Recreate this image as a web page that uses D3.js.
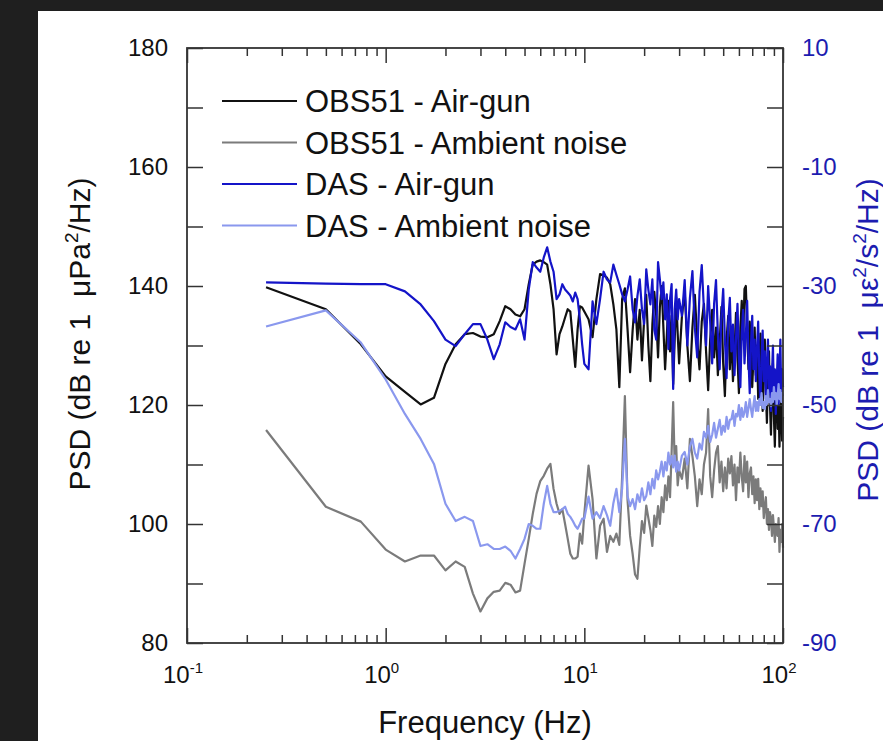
<!DOCTYPE html>
<html>
<head>
<meta charset="utf-8">
<script src="https://cdn.jsdelivr.net/npm/d3@7"></script>
<style>
  html, body { margin: 0; padding: 0; background: #1f1f1f; }
  svg { display: block; }
  text { font-family: "Liberation Sans", Arial, Helvetica, sans-serif; }
</style>
</head>
<body>
<svg id="chart" width="883" height="741"></svg>
<script>
// ---------------- DATA ----------------
const freqs = [
  0.25,0.5,0.75,1,1.25,1.5,1.75,2,2.25,2.5,2.75,3,3.25,3.5,3.75,4,4.25,4.5,4.75,5,
  5.25,5.5,5.75,6,6.25,6.5,6.75,7,7.25,7.5,7.75,8,8.25,8.5,8.75,9,9.25,9.5,9.75,10,
  10.5,11,11.5,12,12.5,13,13.5,14,14.5,15,15.5,16,16.5,17,17.5,18,18.5,19,19.5,20,
  20.5,21,21.5,22,22.5,23,23.5,24,24.5,25,25.5,26,26.5,27,27.5,28,28.5,29,29.5,30,
  31,32,33,34,35,36,37,38,39,40,41,42,43,44,45,46,47,48,49,50,
  51,52,53,54,55,56,57,58,59,60,61,62,63,64,65,66,67,68,69,70,
  71,72,73,74,75,76,77,78,79,80,81,82,83,84,85,86,87,88,89,90,
  91,92,93,94,95,96,97,98,99,100
];

// OBS51 (dB re 1 uPa^2/Hz) - left axis
const obsAirgun = [
  139.8,136.1,130.2,124.8,122.2,120.1,121.2,126.9,130.2,131.9,132.1,131.5,131.4,131.9,134.1,136.6,136.1,135.2,134.9,136.1,
  140.3,143.6,144.1,144.3,144.0,143.6,140.3,136.1,128.5,131.9,133.2,134.7,136.1,135.7,131.0,126.4,132.7,136.6,136.4,135.7,
  134.4,131.4,137.8,142.0,141.8,141.4,140.3,136.9,132.7,123.0,137.8,139.6,132.7,125.5,132.5,137.8,131.0,136.0,127.5,134.4,
  138.5,130.0,124.0,133.5,139.0,135.0,128.0,136.5,140.0,133.0,126.0,131.5,137.5,129.0,135.0,123.5,131.0,138.0,132.0,127.0,
  135,139,130,124,133,138.5,131,126,134,137,129,122.5,131,136,128,133,125,130.5,136.5,127,
  121.5,131,135,126,132,124,129,135.5,128,122,133,137.5,131,139.5,140,133,126,134,130,123,
  128,133,125,130,121,127,132,124,119,127,131,122,117,125,129,120,115,123,127,118,
  113,121,125,116,120,113,119,122.5,114,118
];
const obsAmbient = [
  115.8,102.9,100.4,95.7,93.7,94.7,94.7,92.2,93.7,92.8,88.3,85.3,87.5,88.6,88.8,90.1,89.8,88.5,88.8,93.3,
  97.5,101.7,105.1,107.2,108.1,109.3,110.1,105.9,103.4,101.7,102.5,100.0,97.5,95.0,94.2,94.2,94.5,98.4,96.7,101.7,
  109.8,104.2,94.2,99.7,100.9,95.3,98.0,97.0,98.4,96.5,108.0,121.5,104.0,98.0,95.0,91.5,90.8,96.0,100.5,98.5,
  103.1,101.0,99.0,96.3,101.4,99.5,103.0,100.0,104.5,102.0,106.5,104.0,108.0,104.5,112.0,120.5,110.0,113.1,106.5,109.0,
  107.6,111,106,114.3,111.4,108,103,107.5,105,110,112,119.3,108,104.5,109,112,113.1,107,110.5,105.5,
  109.5,106,111,108.5,111.4,106.5,110,104,109.5,107,112,108,105.5,111.4,107,110.5,104.5,108.5,109.5,105,
  108,103.5,107.5,104,107.6,102.5,106,103,105.5,101,103,104.5,100,102.5,99,102,100.9,98,101.5,99.5,
  97,100,98.5,98.0,101,95.3,99,97,100,96
];

// DAS (dB re 1 ue^2/s^2/Hz) - right axis
const dasAirgun = [
  -29.4,-29.6,-29.7,-29.7,-30.9,-33.1,-35.9,-39.0,-40.1,-38.1,-36.4,-36.4,-39.0,-42.3,-39.8,-36.1,-36.9,-37.3,-35.6,-39.0,
  -30.6,-26.0,-26.9,-27.6,-25.2,-23.5,-25.9,-27.6,-32.2,-31.4,-29.7,-30.6,-31.1,-31.6,-32.6,-31.1,-32.2,-35.6,-39.8,-43.1,
  -44.0,-32.6,-36.4,-32.2,-27.6,-28.9,-29.4,-26.4,-28.1,-29.7,-31.4,-32.6,-30.6,-28.4,-33.9,-36.1,-31.7,-28.9,-33.9,-36.4,
  -27.2,-30.6,-33.1,-28.9,-37.3,-39.0,-26.0,-28.9,-32.2,-29.4,-35.6,-31.4,-40.6,-32.2,-29.7,-47.3,-33.9,-30.6,-35.6,-32.2,
  -35,-29,-40,-32,-27.5,-37,-42,-31,-26.5,-34,-40,-30,-36,-43,-33,-29,-38,-44,-35,-30.5,
  -39,-45.5,-36,-32,-41,-36.5,-45,-39,-33,-42,-47,-38,-34,-43,-38.5,-32.5,-42,-48,-40,-35,
  -44,-39,-46,-40.5,-36,-45,-50,-42,-37.5,-46,-41,-49,-43,-39,-48,-43.5,-51,-45,-40,-49,
  -44,-51.5,-46,-41.5,-50,-45,-39,-49,-44,-47
];
const dasAmbient = [
  -36.8,-34.1,-39.5,-45.7,-51.5,-55.7,-59.9,-66.6,-69.5,-68.8,-69.5,-73.7,-73.4,-74.2,-74.2,-73.8,-74.5,-75.8,-74.2,-72.5,
  -70.0,-70.3,-70.8,-70.8,-66.6,-63.6,-66.6,-68.0,-68.0,-67.8,-67.5,-67.1,-68.3,-68.8,-69.5,-70.3,-70.8,-70.0,-69.1,-69.1,
  -65.4,-69.1,-68.0,-69.0,-67.0,-68.5,-70.3,-66.5,-64.1,-68.0,-64.0,-55.7,-65.3,-67.0,-65.8,-67.5,-65.0,-66.3,-64.0,-66.0,
  -65.3,-63.0,-65.0,-62.4,-64.0,-61.0,-62.5,-61.2,-59.5,-62.0,-59.6,-61.0,-58.0,-60.0,-58.6,-60.5,-58.5,-61.2,-59.5,-61.0,
  -58.5,-57.9,-60.0,-57.0,-55.7,-58.0,-59.0,-56.5,-57.5,-54.5,-55.5,-53.5,-56.2,-55.0,-53.0,-55.5,-54.0,-52.5,-55.0,-53.5,
  -54.5,-52.0,-54.0,-52.5,-52.4,-51.0,-53.5,-51.5,-51.9,-50.0,-52.5,-50.5,-52.0,-51.2,-49.5,-52.0,-50.5,-49.0,-50.7,-52.0,
  -50.0,-48.5,-51.0,-49.5,-51.0,-49.0,-50.0,-48.0,-50.5,-49.5,-50.7,-48.5,-50.0,-47.5,-49.5,-49.0,-50.2,-48.0,-49.5,-47.0,
  -49.0,-48.0,-50.0,-48.5,-46.5,-49.0,-47.5,-49.5,-48.0,-48.5
];

const seriesNames = ["OBS51 - Air-gun", "OBS51 - Ambient noise", "DAS - Air-gun", "DAS - Ambient noise"];
const seriesColors = ["#111111", "#7b7b7b", "#1414c8", "#8a98ee"];
const leftTicks = [80, 90, 100, 110, 120, 130, 140, 150, 160, 170, 180];
const leftLabels = [80, 100, 120, 140, 160, 180];
const rightTicks = [-90, -80, -70, -60, -50, -40, -30, -20, -10, 0, 10];
const rightLabels = [-90, -70, -50, -30, -10, 10];
const xDecades = [0.1, 1, 10, 100];
const xExponents = ["-1", "0", "1", "2"];

// ---------------- CHART ----------------
const svg = d3.select("#chart");
const W = 883, H = 741;
const m = { left: 187, right: 783, top: 48, bottom: 643 };
const axisColor = "#333333";
const rightColor = "#1c1cb0";

svg.append("rect").attr("x", 38).attr("y", 11).attr("width", W - 38).attr("height", H - 11).attr("fill", "#ffffff");

const x = d3.scaleLog().domain([0.1, 100]).range([m.left, m.right]);
const yL = d3.scaleLinear().domain([80, 180]).range([m.bottom, m.top]);
const yR = d3.scaleLinear().domain([-90, 10]).range([m.bottom, m.top]);

// lines
const lineL = d3.line().x((d, i) => x(freqs[i])).y(d => yL(d));
const lineR = d3.line().x((d, i) => x(freqs[i])).y(d => yR(d));

const plot = svg.append("g");
const sw = 2.2;
plot.append("path").datum(obsAirgun).attr("d", lineL).attr("fill", "none")
  .attr("stroke", seriesColors[0]).attr("stroke-width", sw).attr("stroke-linejoin", "round");
plot.append("path").datum(obsAmbient).attr("d", lineL).attr("fill", "none")
  .attr("stroke", seriesColors[1]).attr("stroke-width", sw).attr("stroke-linejoin", "round");
plot.append("path").datum(dasAirgun).attr("d", lineR).attr("fill", "none")
  .attr("stroke", seriesColors[2]).attr("stroke-width", sw).attr("stroke-linejoin", "round");
plot.append("path").datum(dasAmbient).attr("d", lineR).attr("fill", "none")
  .attr("stroke", seriesColors[3]).attr("stroke-width", sw).attr("stroke-linejoin", "round");

// x ticks (log minor + decade major)
const xTickVals = x.ticks();
const isDecade = v => xDecades.some(d => Math.abs(d - v) < 1e-9);

function styleAxis(g) {
  g.select(".domain").remove();
  g.selectAll(".tick line").attr("stroke", axisColor).attr("stroke-width", 1.5);
}

const xb = svg.append("g").attr("transform", `translate(0,${m.bottom})`)
  .call(d3.axisBottom(x).tickValues(xTickVals).tickSize(-8).tickFormat(""));
styleAxis(xb);
xb.selectAll(".tick line").attr("y2", d => isDecade(d) ? -15 : -8);

const xt = svg.append("g").attr("transform", `translate(0,${m.top})`)
  .call(d3.axisTop(x).tickValues(xTickVals).tickSize(-8).tickFormat(""));
styleAxis(xt);
xt.selectAll(".tick line").attr("y2", d => isDecade(d) ? 15 : 8);

// x labels with superscripts
const xl = svg.append("g");
xDecades.forEach((d, i) => {
  const t = xl.append("text").attr("x", x(d) - 4).attr("y", m.bottom + 40)
    .attr("text-anchor", "middle").attr("font-size", 24).attr("fill", "#111");
  t.append("tspan").text("10");
  t.append("tspan").attr("font-size", 15).attr("dy", -10).text(xExponents[i]);
});

// left axis
const yl = svg.append("g").attr("transform", `translate(${m.left},0)`)
  .call(d3.axisLeft(yL).tickValues(leftTicks).tickSize(-16).tickPadding(19)
    .tickFormat(d => leftLabels.includes(d) ? d : ""));
styleAxis(yl);
yl.selectAll(".tick text").attr("font-size", 24).attr("fill", "#111")
  .attr("font-family", "Liberation Sans, Arial, sans-serif");

// right axis
const yr = svg.append("g").attr("transform", `translate(${m.right},0)`)
  .call(d3.axisRight(yR).tickValues(rightTicks).tickSize(-16).tickPadding(19)
    .tickFormat(d => rightLabels.includes(d) ? d : ""));
styleAxis(yr);
yr.selectAll(".tick text").attr("font-size", 24).attr("fill", rightColor)
  .attr("font-family", "Liberation Sans, Arial, sans-serif");

// frame
svg.append("rect").attr("x", m.left).attr("y", m.top)
  .attr("width", m.right - m.left).attr("height", m.bottom - m.top)
  .attr("fill", "none").attr("stroke", axisColor).attr("stroke-width", 1.8);

// axis titles
svg.append("text").attr("x", (m.left + m.right) / 2).attr("y", 733)
  .attr("text-anchor", "middle").attr("font-size", 31).attr("fill", "#111")
  .text("Frequency (Hz)");

const lt = svg.append("text").attr("transform", `translate(90,334) rotate(-90)`)
  .attr("text-anchor", "middle").attr("font-size", 30).attr("fill", "#111")
  .style("white-space", "pre");
lt.append("tspan").text("PSD (dB re 1  \u03bcPa");
lt.append("tspan").attr("font-size", 19).attr("dy", -12).text("2");
lt.append("tspan").attr("dy", 12).text("/Hz)");

const rt = svg.append("text").attr("transform", `translate(878,340) rotate(-90)`)
  .attr("text-anchor", "middle").attr("font-size", 30).attr("fill", rightColor)
  .style("white-space", "pre");
rt.append("tspan").text("PSD (dB re 1  \u03bc\u03b5");
rt.append("tspan").attr("font-size", 19).attr("dy", -12).text("2");
rt.append("tspan").attr("dy", 12).text("/s");
rt.append("tspan").attr("font-size", 19).attr("dy", -12).text("2");
rt.append("tspan").attr("dy", 12).text("/Hz)");

// legend
const lg = svg.append("g");
seriesNames.forEach((name, i) => {
  const yy = 101 + i * 41.5;
  lg.append("line").attr("x1", 222).attr("x2", 297).attr("y1", yy).attr("y2", yy)
    .attr("stroke", seriesColors[i]).attr("stroke-width", sw);
  lg.append("text").attr("x", 305).attr("y", yy + 11).attr("font-size", 31)
    .attr("fill", "#111").text(name);
});
</script>
</body>
</html>
